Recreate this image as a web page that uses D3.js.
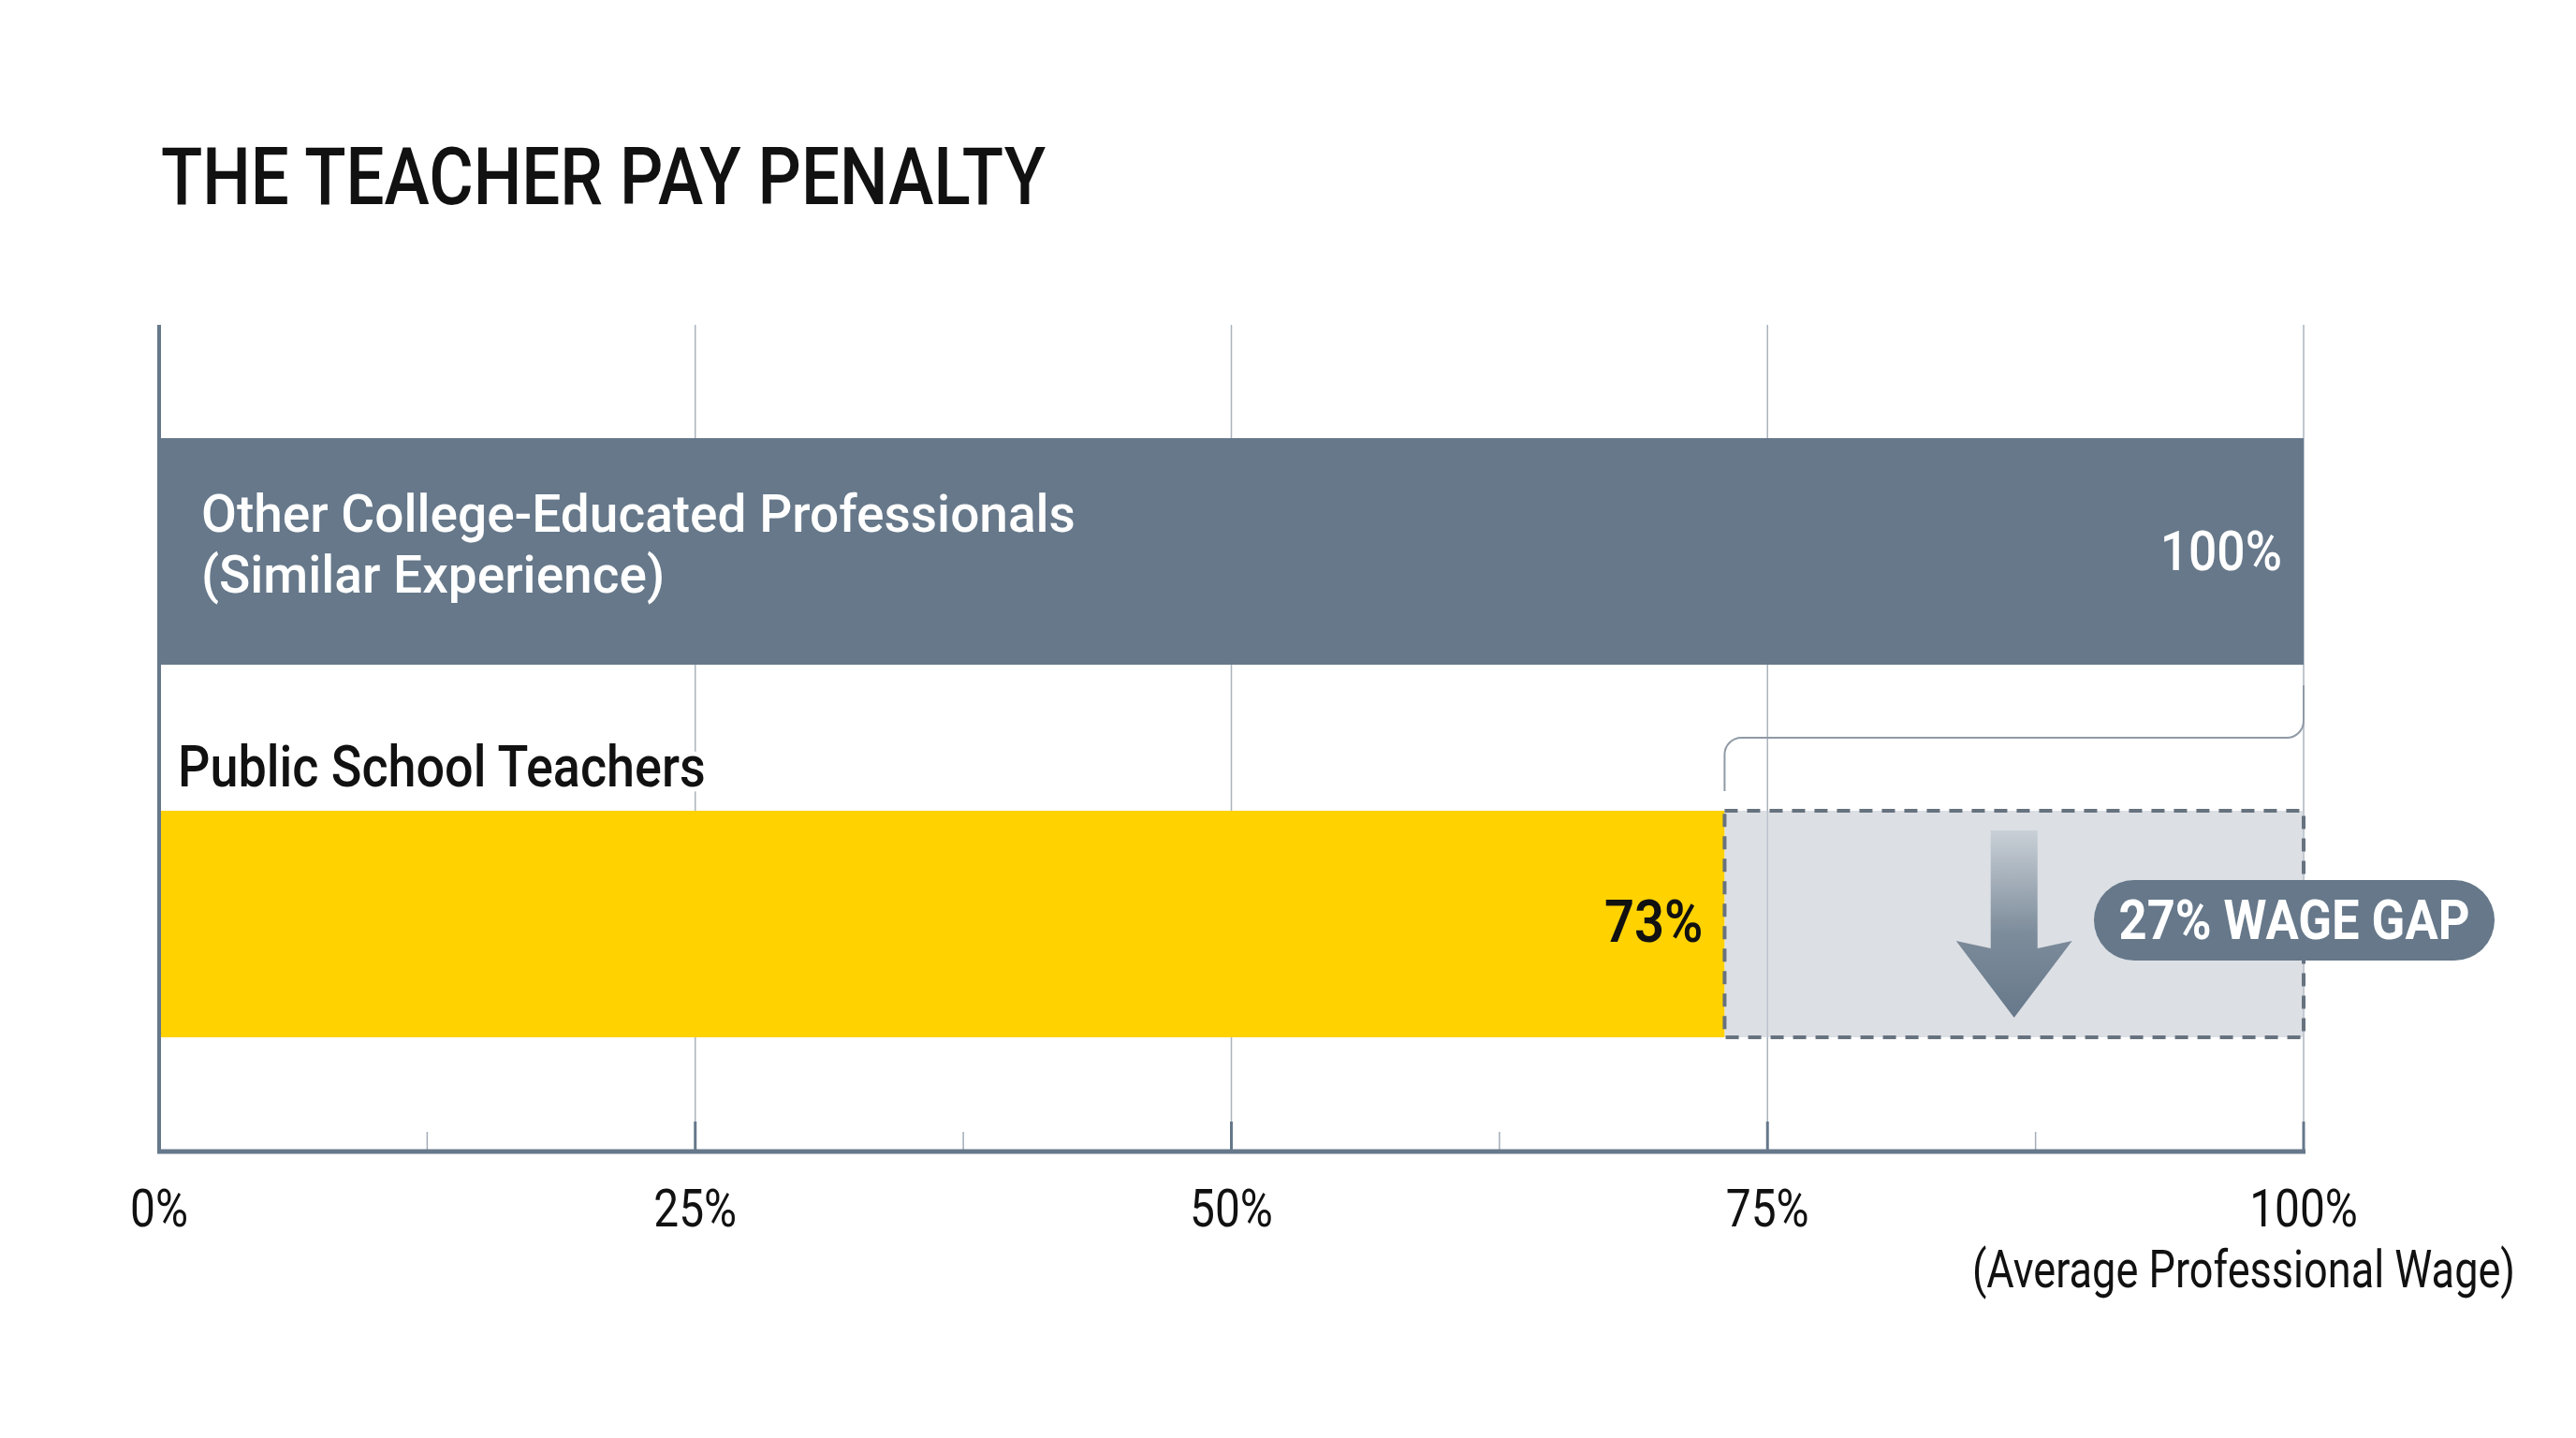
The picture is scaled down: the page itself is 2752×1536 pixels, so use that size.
<!DOCTYPE html>
<html>
<head>
<meta charset="utf-8">
<script src="https://cdn.jsdelivr.net/npm/d3@7"></script>
<style>
  html, body { margin:0; padding:0; background:#ffffff; }
  svg { display:block; font-family: Roboto, "Noto Sans", sans-serif; }
</style>
</head>
<body>
<svg id="chart"></svg>
<script>
// data
var categories = ["Other College-Educated Professionals", "Public School Teachers"];
var categoryNotes = ["(Similar Experience)", ""];
var values = [100, 73];
var valueLabels = ["100%", "73%"];
var tickValues = [0, 25, 50, 75, 100];
var tickLabels = ["0%", "25%", "50%", "75%", "100%"];
var minorTicks = [12.5, 37.5, 62.5, 87.5];
var gapLabel = "27% WAGE GAP";
var axisNote = "(Average Professional Wage)";
var title = "THE TEACHER PAY PENALTY";

var screen = {width:2752, height:1536};
var margins = {top:347, bottom:307, left:170, right:291};
var graph = {
    width: screen.width - margins.left - margins.right,
    height: screen.height - margins.top - margins.bottom
};

var colors = {bar:"#66788a", teacher:"#ffd200", gap:"#c9ced5", axis:"#66788a", grid:"#aab3bd", text:"#111111"};

var svg = d3.select("#chart")
    .attr("width", screen.width)
    .attr("height", screen.height);

var xScale = d3.scaleLinear()
    .domain([0, 100])
    .range([margins.left, margins.left + graph.width]);

var yScale = d3.scaleBand()
    .domain(categories)
    .range([margins.top, margins.top + graph.height])
    .paddingInner(0.392)
    .paddingOuter(0.304);

// text helper: narrow look via horizontal scale
var addText = function(parent, str, x, y, size, weight, fill, anchor, sx)
{
    return parent.append("text")
        .attr("transform", "translate(" + x + "," + y + ") scale(" + sx + ",1)")
        .attr("text-anchor", anchor)
        .attr("font-size", size)
        .attr("font-weight", weight)
        .attr("fill", fill)
        .text(str);
}

var defs = svg.append("defs");
var grad = defs.append("linearGradient")
    .attr("id", "arrowGrad")
    .attr("x1", 0).attr("y1", 0).attr("x2", 0).attr("y2", 1);
grad.append("stop").attr("offset", "0%").attr("stop-color", "#c9d0d7");
grad.append("stop").attr("offset", "55%").attr("stop-color", "#7d8c9b");
grad.append("stop").attr("offset", "100%").attr("stop-color", "#66788a");

// title
addText(svg, title, 172, 218, 86, 500, colors.text, "start", 0.845);

// gridlines
var bottom = margins.top + graph.height;
svg.append("g").classed("grid", true)
    .selectAll("line")
    .data(tickValues.slice(1))
    .enter()
    .append("line")
    .attr("x1", function(d){ return xScale(d); })
    .attr("x2", function(d){ return xScale(d); })
    .attr("y1", margins.top)
    .attr("y2", bottom)
    .attr("stroke", colors.grid)
    .attr("stroke-width", 1.5);

// bars
var bars = svg.append("g").classed("bars", true);
bars.selectAll("rect")
    .data(categories)
    .enter()
    .append("rect")
    .attr("x", xScale(0))
    .attr("y", function(d){ return yScale(d); })
    .attr("width", function(d, i){ return xScale(values[i]) - xScale(0); })
    .attr("height", yScale.bandwidth())
    .attr("fill", function(d, i){ return i == 0 ? colors.bar : colors.teacher; });

// gap box
var teacherTop = yScale(categories[1]);
var bw = yScale.bandwidth();
var gapG = svg.append("g").classed("gap", true);
gapG.append("rect")
    .attr("x", xScale(values[1]))
    .attr("y", teacherTop)
    .attr("width", xScale(values[0]) - xScale(values[1]))
    .attr("height", bw)
    .attr("fill", colors.gap)
    .attr("fill-opacity", 0.65)
    .attr("stroke", "#67727f")
    .attr("stroke-width", 4)
    .attr("stroke-dasharray", "14,10");

// bracket from the teacher bar end up to the full bar
var bx0 = xScale(values[1]), bx1 = xScale(values[0]);
var by = teacherTop - 78, r = 18;
var bracket = d3.path();
bracket.moveTo(bx0, teacherTop - 21);
bracket.lineTo(bx0, by + r);
bracket.arcTo(bx0, by, bx0 + r, by, r);
bracket.lineTo(bx1 - r, by);
bracket.arcTo(bx1, by, bx1, by - r, r);
bracket.lineTo(bx1, yScale(categories[0]) + bw + 22);
gapG.append("path")
    .attr("d", bracket.toString())
    .attr("fill", "none")
    .attr("stroke", "#8f9aa6")
    .attr("stroke-width", 2);

// down arrow in the middle of the gap
var cx = xScale((values[0] + values[1]) / 2);
var aTop = teacherTop + 21, wingY = teacherTop + 139, neckY = teacherTop + 147, tipY = teacherTop + 221;
var arrowPts = [
    [cx - 25, aTop], [cx + 25, aTop], [cx + 25, neckY], [cx + 62, wingY],
    [cx, tipY], [cx - 62, wingY], [cx - 25, neckY]
];
gapG.append("path")
    .attr("d", d3.line()(arrowPts) + "Z")
    .attr("fill", "url(#arrowGrad)");

// gap pill
var pillCx = xScale(values[0]) - 10, pillCy = teacherTop + 117;
var pillW = 428, pillH = 86;
gapG.append("rect")
    .attr("x", pillCx - pillW / 2)
    .attr("y", pillCy - pillH / 2)
    .attr("width", pillW)
    .attr("height", pillH)
    .attr("rx", pillH / 2)
    .attr("fill", colors.bar);
addText(gapG, gapLabel, pillCx, pillCy + 20, 59, 700, "#ffffff", "middle", 0.89);

// bar labels
var labels = svg.append("g").classed("labels", true);
var topBand = yScale(categories[0]);
addText(labels, categories[0], xScale(0) + 45, topBand + 100, 55, 500, "#ffffff", "start", 1);
addText(labels, categoryNotes[0], xScale(0) + 45, topBand + 165, 55, 500, "#ffffff", "start", 1);
addText(labels, valueLabels[0], xScale(values[0]) - 23, topBand + 141, 60, 500, "#ffffff", "end", 0.89);

addText(labels, categories[1], xScale(0) + 20, teacherTop - 26, 62, 500, colors.text, "start", 0.87)
    .attr("stroke", "#ffffff")
    .attr("stroke-width", 10)
    .attr("paint-order", "stroke");
addText(labels, valueLabels[1], xScale(values[1]) - 23, teacherTop + 140, 63, 600, colors.text, "end", 0.89);

// axes
var axes = svg.append("g").classed("axes", true);
axes.append("line")
    .attr("x1", xScale(0)).attr("x2", xScale(0))
    .attr("y1", margins.top).attr("y2", bottom)
    .attr("stroke", colors.axis)
    .attr("stroke-width", 4);

axes.selectAll(".minor")
    .data(minorTicks)
    .enter()
    .append("line")
    .classed("minor", true)
    .attr("x1", function(d){ return xScale(d); })
    .attr("x2", function(d){ return xScale(d); })
    .attr("y1", bottom - 20).attr("y2", bottom)
    .attr("stroke", "#a3adb8")
    .attr("stroke-width", 1.5);

axes.selectAll(".major")
    .data(tickValues.slice(1))
    .enter()
    .append("line")
    .classed("major", true)
    .attr("x1", function(d){ return xScale(d); })
    .attr("x2", function(d){ return xScale(d); })
    .attr("y1", bottom - 31).attr("y2", bottom)
    .attr("stroke", colors.axis)
    .attr("stroke-width", 3);

axes.append("line")
    .attr("x1", xScale(0) - 2).attr("x2", xScale(100) + 2)
    .attr("y1", bottom + 1).attr("y2", bottom + 1)
    .attr("stroke", colors.axis)
    .attr("stroke-width", 5);

tickValues.forEach(function(v, i)
{
    addText(axes, tickLabels[i], xScale(v), bottom + 81, 55, 400, colors.text, "middle", 0.87);
});
addText(axes, axisNote, xScale(100) - 64, bottom + 146, 55, 400, colors.text, "middle", 0.82);
</script>
</body>
</html>
